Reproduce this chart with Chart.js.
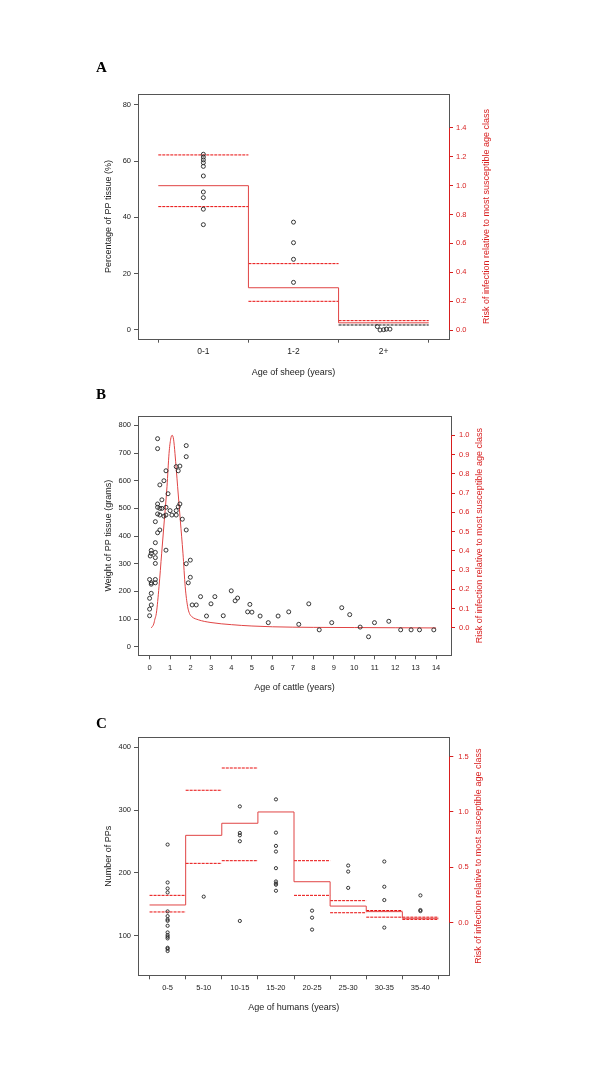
<!DOCTYPE html>
<html>
<head>
<meta charset="utf-8">
<script src="https://cdn.jsdelivr.net/npm/chart.js@4.4.1/dist/chart.umd.min.js"></script>
<style>
html, body { margin: 0; padding: 0; background: #fff; }
#page { position: relative; width: 600px; height: 1068px; }
.panel { position: absolute; left: 0; width: 600px; }
.letter { position: absolute; left: 96px; font: bold 15px 'Liberation Serif', 'Times New Roman', serif; line-height: 15px; color: #000; }
</style>
</head>
<body>
<div id="page">
  <div class="panel" style="top:60px;height:330px"><canvas id="chartA"></canvas></div>
  <div class="panel" style="top:390px;height:330px"><canvas id="chartB"></canvas></div>
  <div class="panel" style="top:720px;height:348px"><canvas id="chartC"></canvas></div>
  <div class="letter" style="top:60px">A</div>
  <div class="letter" style="top:387px">B</div>
  <div class="letter" style="top:716px">C</div>
</div>
<script>
// ---- Panel A: sheep ----
const sheepClasses = ['0-1', '1-2', '2+'];
const sheepPct01 = [62.4, 61.4, 60.4, 59.4, 58.1, 54.7, 49.0, 47.0, 42.9, 37.4];
const sheepPct12 = [38.3, 31.0, 25.1, 16.9];
const sheepPct2p = [1.2, 0.0, 0.1, 0.3, 0.3];
const sheepAge2p = [2.43, 2.46, 2.50, 2.53, 2.57];
const sheepRisk = [1.0, 0.293, 0.05];
const sheepRiskUpper = [1.213, 0.46, 0.065];
const sheepRiskLower = [0.855, 0.199, 0.035];
const sheepPctTicks = [0, 20, 40, 60, 80];
const sheepRiskTicks = [0, 0.2, 0.4, 0.6, 0.8, 1.0, 1.2, 1.4];

// ---- Panel B: cattle ----
const cattleAge = [
    0, 0, 0, 0, 0.03,
    0.08, 0.08, 0.08, 0.08, 0.08, 0.08,
    0.28, 0.28, 0.28, 0.28, 0.28, 0.28, 0.28,
    0.39, 0.39, 0.39, 0.39, 0.39, 0.39,
    0.5, 0.5, 0.5, 0.5,
    0.6, 0.6, 0.7, 0.7,
    0.8, 0.8, 0.8, 0.8,
    0.9, 1.0, 1.09,
    1.3, 1.3, 1.3, 1.4, 1.4, 1.48, 1.48, 1.6,
    1.79, 1.79, 1.79, 1.79, 1.89, 1.99, 1.99,
    2.08, 2.28, 2.49, 2.78, 3.0, 3.19, 3.6, 3.99, 4.18, 4.3,
    4.79, 4.9, 5.0, 5.4, 5.8, 6.28, 6.8, 7.29, 7.78, 8.29,
    8.9, 9.39, 9.78, 10.29, 10.7, 10.99, 11.69, 12.27, 12.78, 13.19, 13.89
];
const cattleWeight = [
    243, 175, 136, 112, 328,
    348, 337, 231, 226, 193, 151,
    452, 376, 341, 322, 301, 243, 231,
    752, 716, 516, 504, 480, 412,
    585, 500, 476, 422,
    531, 500, 600, 472,
    636, 504, 476, 349,
    553, 492, 476,
    651, 492, 476, 636, 506, 653, 516, 461,
    727, 687, 422, 300, 231, 313, 251,
    151, 151, 181, 111, 155, 181, 112, 202, 166, 176,
    126, 153, 125, 111, 87, 111, 126, 81, 155, 61,
    87, 141, 116, 71, 36, 87, 92, 61, 61, 61, 61
];
const cattleRiskAge = [0.08, 0.2, 0.26, 0.33, 0.46, 0.59, 0.72, 0.85, 0.95, 1.03, 1.1, 1.17, 1.24, 1.37, 1.5, 1.63, 1.74, 1.86, 1.95, 2.07, 2.39, 3, 4, 5, 6, 8, 10, 12, 14];
const cattleRisk = [0.0, 0.02, 0.046, 0.076, 0.214, 0.388, 0.56, 0.733, 0.906, 0.98, 1.0, 0.98, 0.906, 0.733, 0.56, 0.388, 0.214, 0.11, 0.075, 0.058, 0.042, 0.028, 0.017, 0.01, 0.006, 0.003, 0.002, 0.001, 0.0];
const cattleAgeTicks = [0, 1, 2, 3, 4, 5, 6, 7, 8, 9, 10, 11, 12, 13, 14];
const cattleWeightTicks = [0, 100, 200, 300, 400, 500, 600, 700, 800];
const cattleRiskTicks = [0, 0.1, 0.2, 0.3, 0.4, 0.5, 0.6, 0.7, 0.8, 0.9, 1.0];

// ---- Panel C: humans ----
const humanClasses = ['0-5', '5-10', '10-15', '15-20', '20-25', '25-30', '30-35', '35-40'];
const humanPPs = [
    [245, 184.6, 175, 168.7, 138.5, 131, 125.7, 123.5, 115.6, 105, 100.8, 98, 95.5, 80.6, 79, 75.4],
    [162],
    [305.8, 263.5, 259.8, 250.3, 123.3],
    [317, 264, 242.9, 233.9, 207.4, 186.2, 183, 181, 171.4],
    [139.7, 128.5, 109.5],
    [211.6, 202, 176],
    [218, 177.8, 156.6, 112.7],
    [164, 140.7, 139]
];
const humanRisk = [0.16, 0.789, 0.898, 1.0, 0.37, 0.15, 0.10, 0.04];
const humanRiskUpper = [0.247, 1.196, 1.397, null, 0.56, 0.199, 0.11, 0.05];
const humanRiskLower = [0.097, 0.536, 0.56, null, 0.247, 0.09, 0.05, 0.03];
const humanPPTicks = [100, 200, 300, 400];
const humanRiskTicks = [0, 0.5, 1.0, 1.5];

const FONT = "'Liberation Sans', Arial, sans-serif";
const RED = '#d81e1e';
const DASH_RED = '#e80a0a';
const LINE_RED = '#e04444';
const GREY = '#555';
const TEXT = '#222';
const DASH = [3, 1];

function stepData(est) {
    const pts = est.map((v, i) => ({ x: i, y: v }));
    pts.push({ x: est.length, y: est[est.length - 1] });
    return pts;
}

function ciData(vals) {
    const pts = [];
    vals.forEach((v, i) => {
        if (v == null) return;
        pts.push({ x: i, y: v }, { x: i + 1, y: v }, { x: i + 1, y: null });
    });
    return pts;
}

function halfSteps(n) {
    const out = [];
    for (let i = 0; i <= n * 2; i++) out.push(i / 2);
    return out;
}

// box, red right axis line and right-hand title (reads bottom to top, as in the original)
const framePlugin = {
    id: 'frame',
    afterDraw(chart, args, opts) {
        const { ctx, chartArea: a, scales } = chart;
        const l = Math.round(a.left) + 0.5, r = Math.round(a.right) + 0.5;
        const t = Math.round(a.top) + 0.5, b = Math.round(a.bottom) + 0.5;
        ctx.save();
        ctx.lineWidth = 1;
        ctx.strokeStyle = GREY;
        ctx.strokeRect(l, t, r - l, b - t);
        const y2 = scales.y2;
        const ticks = y2.ticks;
        ctx.strokeStyle = RED;
        ctx.beginPath();
        ctx.moveTo(r, y2.getPixelForValue(ticks[0].value));
        ctx.lineTo(r, y2.getPixelForValue(ticks[ticks.length - 1].value));
        ctx.stroke();
        ctx.translate(opts.titleX, (a.top + a.bottom) / 2);
        ctx.rotate(-Math.PI / 2);
        ctx.fillStyle = RED;
        ctx.font = '9px ' + FONT;
        ctx.textAlign = 'center';
        ctx.textBaseline = 'middle';
        ctx.fillText(opts.text, 0, 0);
        ctx.restore();
    }
};

function buildPanel(id, p) {
    const tickFont = { family: FONT, size: 7.5 };
    const titleFont = { family: FONT, size: 9 };
    return new Chart(document.getElementById(id), {
        type: 'scatter',
        data: { datasets: p.datasets },
        plugins: [framePlugin],
        options: {
            responsive: true,
            maintainAspectRatio: false,
            animation: false,
            layout: { padding: { left: 100, top: p.top, right: 0, bottom: 0 } },
            plugins: {
                legend: { display: false },
                tooltip: { enabled: false },
                frame: { titleX: p.rightTitleX, text: 'Risk of infection relative to most susceptible age class' }
            },
            scales: {
                x: {
                    type: 'linear', position: 'bottom', min: p.x.min, max: p.x.max,
                    afterBuildTicks: s => { s.ticks = p.x.ticks.map(v => ({ value: v })); },
                    afterFit: s => { s.height = p.xHeight; },
                    border: { display: false },
                    grid: {
                        drawOnChartArea: false, drawTicks: true, tickLength: 4,
                        tickColor: p.x.tickColor || GREY
                    },
                    ticks: {
                        color: TEXT, font: { family: FONT, size: p.x.fontSize || 7.5 }, padding: 4,
                        maxRotation: 0, autoSkip: false, callback: p.x.label
                    },
                    title: { display: true, text: p.x.title, color: TEXT, font: titleFont, padding: { top: 0, bottom: p.xTitlePad } }
                },
                y: {
                    type: 'linear', position: 'left', min: p.y.min, max: p.y.max,
                    afterBuildTicks: s => { s.ticks = p.y.ticks.map(v => ({ value: v })); },
                    afterFit: s => { s.width = 38; },
                    border: { display: false },
                    grid: { drawOnChartArea: false, drawTicks: true, tickLength: 4, tickColor: GREY },
                    ticks: { color: TEXT, font: tickFont, padding: 3 },
                    title: { display: true, text: p.y.title, color: TEXT, font: titleFont, padding: { top: 3, bottom: 0 } }
                },
                y2: {
                    type: 'linear', position: 'right', min: p.y2.min, max: p.y2.max,
                    afterBuildTicks: s => { s.ticks = p.y2.ticks.map(v => ({ value: v })); },
                    afterFit: s => { s.width = p.y2Width; },
                    border: { display: false },
                    grid: { drawOnChartArea: false, drawTicks: true, tickLength: 4, tickColor: RED },
                    ticks: { color: RED, font: tickFont, padding: p.y2Pad, callback: v => v.toFixed(1) }
                }
            }
        }
    });
}

const pointStyle = r => ({
    showLine: false, pointRadius: r, pointHoverRadius: r,
    pointBackgroundColor: 'rgba(0,0,0,0)', pointBorderColor: '#222', pointBorderWidth: 0.9,
    yAxisID: 'y'
});
const stepStyle = { showLine: true, stepped: 'before', borderColor: LINE_RED, borderWidth: 1, pointRadius: 0, yAxisID: 'y2' };
const ciStyle = { showLine: true, borderColor: DASH_RED, borderWidth: 1, borderDash: DASH, pointRadius: 0, spanGaps: false, yAxisID: 'y2' };

// Panel A
const sheepPoints = [
    ...sheepPct01.map(v => ({ x: 0.5, y: v })),
    ...sheepPct12.map(v => ({ x: 1.5, y: v })),
    ...sheepPct2p.map((v, i) => ({ x: sheepAge2p[i], y: v }))
];
buildPanel('chartA', {
    top: 34.3, xHeight: 51.3, xTitlePad: 12.5, y2Width: 151, y2Pad: 3, rightTitleX: 486.7,
    x: {
        min: -0.225, max: 3.225, ticks: halfSteps(3), title: 'Age of sheep (years)', fontSize: 8.5,
        label: v => (v % 1 === 0 ? '' : sheepClasses[Math.floor(v)]),
        tickColor: c => (c.tick && c.tick.value % 1 === 0 ? GREY : 'rgba(0,0,0,0)')
    },
    y: { min: -3.1, max: 83.7, ticks: sheepPctTicks, title: 'Percentage of PP tissue (%)' },
    y2: { min: -0.06, max: 1.633, ticks: sheepRiskTicks },
    datasets: [
        { data: sheepPoints, ...pointStyle(2) },
        { data: stepData(sheepRisk), ...stepStyle },
        { data: ciData(sheepRiskUpper), ...ciStyle },
        {
            data: ciData(sheepRiskLower), ...ciStyle,
            segment: { borderColor: c => (c.p0.parsed.x >= 2 ? '#111' : DASH_RED) }
        }
    ]
});

// Panel B
buildPanel('chartB', {
    top: 26, xHeight: 64.7, xTitlePad: 27, y2Width: 149, y2Pad: 4, rightTitleX: 479.3,
    x: {
        min: -0.567, max: 14.73, ticks: cattleAgeTicks, title: 'Age of cattle (years)',
        label: v => String(v)
    },
    y: { min: -31, max: 834, ticks: cattleWeightTicks, title: 'Weight of PP tissue (grams)' },
    y2: { min: -0.142, max: 1.10, ticks: cattleRiskTicks },
    datasets: [
        { data: cattleAge.map((a, i) => ({ x: a, y: cattleWeight[i] })), ...pointStyle(2) },
        {
            data: cattleRiskAge.map((a, i) => ({ x: a, y: cattleRisk[i] })),
            showLine: true, borderColor: LINE_RED, borderWidth: 1, pointRadius: 0,
            cubicInterpolationMode: 'monotone', yAxisID: 'y2'
        }
    ]
});

// Panel C
const humanPoints = humanPPs.flatMap((vals, i) => vals.map(v => ({ x: i + 0.5, y: v })));
buildPanel('chartC', {
    top: 17, xHeight: 92.7, xTitlePad: 54.6, y2Width: 150.7, y2Pad: 5, rightTitleX: 478.3,
    x: {
        min: -0.32, max: 8.30, ticks: halfSteps(8), title: 'Age of humans (years)',
        label: v => (v % 1 === 0 ? '' : humanClasses[Math.floor(v)]),
        tickColor: c => (c.tick && c.tick.value % 1 === 0 ? GREY : 'rgba(0,0,0,0)')
    },
    y: { min: 36.7, max: 416.4, ticks: humanPPTicks, title: 'Number of PPs' },
    y2: { min: -0.475, max: 1.677, ticks: humanRiskTicks },
    datasets: [
        { data: humanPoints, ...pointStyle(1.6) },
        { data: stepData(humanRisk), ...stepStyle },
        { data: ciData(humanRiskUpper), ...ciStyle },
        { data: ciData(humanRiskLower), ...ciStyle }
    ]
});
</script>
</body>
</html>
